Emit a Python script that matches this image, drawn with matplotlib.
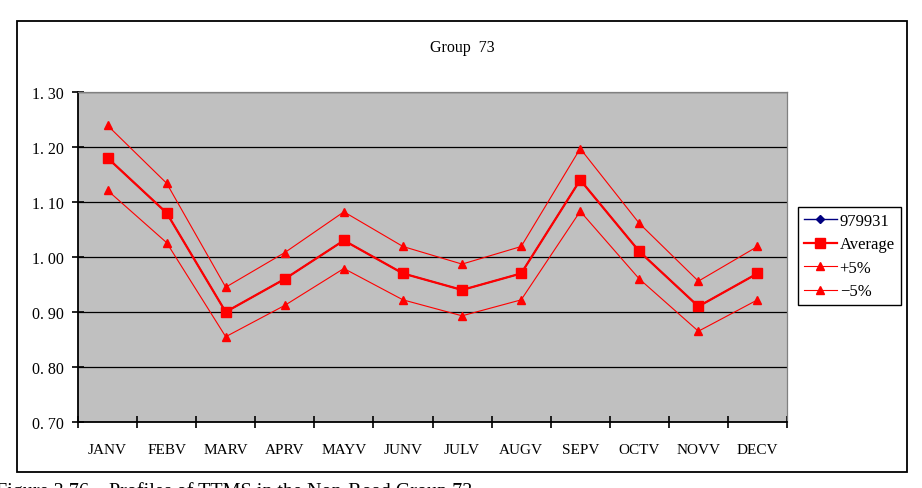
import matplotlib
matplotlib.use('Agg')
import matplotlib.pyplot as plt
from matplotlib.patches import Rectangle
from matplotlib.ticker import FixedLocator, FuncFormatter

months = ['JANV', 'FEBV', 'MARV', 'APRV', 'MAYV', 'JUNV', 'JULV', 'AUGV', 'SEPV', 'OCTV', 'NOVV', 'DECV']
average = [1.18, 1.08, 0.90, 0.96, 1.03, 0.97, 0.94, 0.97, 1.14, 1.01, 0.91, 0.97]
series_979931 = [1.18, 1.08, 0.90, 0.96, 1.03, 0.97, 0.94, 0.97, 1.14, 1.01, 0.91, 0.97]
plus_5 = [1.239, 1.134, 0.945, 1.008, 1.082, 1.019, 0.987, 1.019, 1.197, 1.061, 0.956, 1.019]
minus_5 = [1.121, 1.026, 0.855, 0.912, 0.979, 0.922, 0.893, 0.922, 1.083, 0.960, 0.865, 0.922]
y_ticks = [0.70, 0.80, 0.90, 1.00, 1.10, 1.20, 1.30]

title = 'Group  73'
caption = 'Figure 3.76    Profiles of TTMS in the Non-Road Group 73'

serif = ['Liberation Serif', 'DejaVu Serif']


def format_tick(value, index):
    # the original renders the decimal point with a wide gap
    return '{:.2f}'.format(value).replace('.', '. ')


def build_chart():
    fig = plt.figure(figsize=(9.22, 4.89), dpi=100)
    fig.patch.set_facecolor('white')

    # outer chart border
    fig.patches.append(Rectangle((0.0184, 0.0327), 0.9653, 0.9223, transform=fig.transFigure,
                                 fill=False, edgecolor='black', linewidth=1.3, zorder=0))

    ax = fig.add_axes([0.0846, 0.135, 0.769, 0.675])
    ax.set_facecolor('#C0C0C0')
    x = list(range(len(months)))

    ax.plot(x, series_979931, color='#000080', marker='D', markersize=4, linewidth=1, label='979931', zorder=2)
    ax.plot(x, average, color='#FF0000', marker='s', markersize=7.5, linewidth=1.6, label='Average', zorder=4)
    ax.plot(x, plus_5, color='#FF0000', marker='^', markersize=5.5, linewidth=0.8, label='+5%', zorder=3)
    ax.plot(x, minus_5, color='#FF0000', marker='^', markersize=5.5, linewidth=0.8, label='\u22125%', zorder=3)

    ax.set_xlim(-0.5, len(months) - 0.5)
    ax.set_ylim(0.70, 1.30)

    ax.yaxis.set_major_locator(FixedLocator(y_ticks))
    ax.yaxis.set_major_formatter(FuncFormatter(format_tick))
    ax.yaxis.grid(True, color='black', linewidth=0.9)
    ax.set_axisbelow(True)

    ax.xaxis.set_major_locator(FixedLocator([i - 0.5 for i in range(len(months) + 1)]))
    ax.xaxis.set_major_formatter(FuncFormatter(lambda v, i: ''))
    ax.set_xticks(x, minor=True)
    ax.set_xticklabels(months, minor=True, family=serif, fontsize=11)

    ax.tick_params(axis='y', which='major', direction='inout', length=8, width=1.2, pad=6.5,
                   labelsize=11.5, color='black')
    ax.tick_params(axis='x', which='major', direction='inout', length=8, width=1.2, color='black')
    ax.tick_params(axis='x', which='minor', length=0, pad=15)
    for label in ax.get_yticklabels():
        label.set_family(serif)

    for side in ['left', 'bottom']:
        ax.spines[side].set_color('black')
        ax.spines[side].set_linewidth(1.3)
    for side in ['top', 'right']:
        ax.spines[side].set_color('#808080')
        ax.spines[side].set_linewidth(0.9)

    fig.text(0.501, 0.902, title, ha='center', va='center', family=serif, fontsize=11.5)

    legend = ax.legend(loc='upper left', bbox_to_anchor=(0.8655, 0.5746), bbox_transform=fig.transFigure,
                       borderaxespad=0, frameon=True, fancybox=False, edgecolor='black', framealpha=1,
                       prop={'family': serif, 'size': 12}, handlelength=2.0, handletextpad=0.15,
                       labelspacing=0.45, borderpad=0.35)
    legend.get_frame().set_linewidth(1.0)

    fig.text(-0.004, 0.0135, caption, ha='left', va='top', family=serif, fontsize=14.5)
    return fig


if __name__ == '__main__':
    figure = build_chart()
    figure.savefig('out.png', dpi=100)
